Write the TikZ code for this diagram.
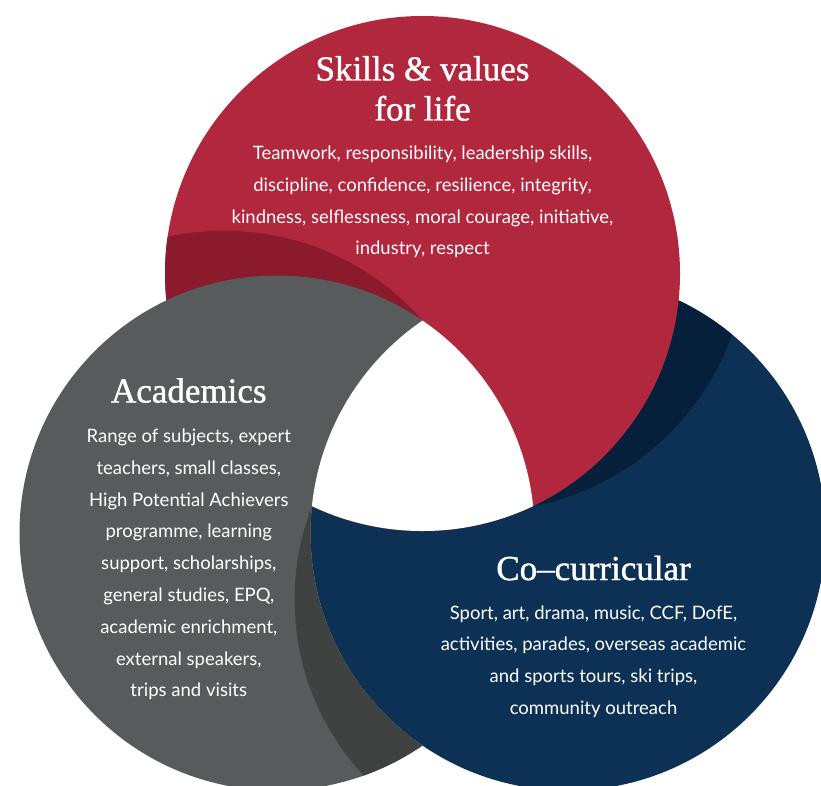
\documentclass[tikz,border=0pt]{standalone}
\usepackage{fontspec}
\newfontfamily\latofont{Lato}
\newfontfamily\titlefont[FakeBold=1.2]{Liberation Serif}
\definecolor{redc}{RGB}{177,39,62}
\definecolor{redd}{RGB}{138,26,44}
\definecolor{grayc}{RGB}{88,91,92}
\definecolor{grayd}{RGB}{63,66,65}
\definecolor{navyc}{RGB}{13,49,84}
\definecolor{navyd}{RGB}{6,32,60}
\begin{document}
\begin{tikzpicture}[x=1pt,y=-1pt,
  titletext/.style={text=white,font=\titlefont\fontsize{35}{40}\selectfont,inner sep=0pt,align=center},
  bodytext/.style={text=white,font=\latofont\fontsize{18.5}{31.8}\selectfont,inner sep=0pt,align=center}]
\clip (0,0) rectangle (821,785);
% circle centres
\coordinate (cR) at (422.5,273.5);
\coordinate (cG) at (277,533);
\coordinate (cN) at (568,533);
% shadow circle centres
\coordinate (sG) at (224.1,494.9);
\coordinate (sR) at (481.6,245.1);
\coordinate (sN) at (553.6,599.5);
\coordinate (bbA) at (-10,-10);
\coordinate (bbB) at (831,795);
% navy circle with shadow of red
\fill[navyc] (cN) circle (257.5pt);
\begin{scope}
  \clip (cN) circle (257.5pt);
  \fill[navyd] (sR) circle (266pt);
\end{scope}
% red circle with shadow of gray
\fill[redc] (cR) circle (257.5pt);
\begin{scope}
  \clip (cR) circle (257.5pt);
  \fill[redd] (sG) circle (264.2pt);
\end{scope}
% gray circle (under navy) with shadow of navy
\begin{scope}
  \clip (cG) circle (257.5pt);
  \fill[grayc,even odd rule] (bbA) rectangle (bbB) (cN) circle (257.5pt);
\end{scope}
\begin{scope}
  \clip (cG) circle (257.5pt);
  \clip (sN) circle (259pt);
  \fill[grayd,even odd rule] (bbA) rectangle (bbB) (cN) circle (257.5pt);
\end{scope}
% white centre
\begin{scope}
  \clip (cG) circle (257.5pt);
  \clip (cR) circle (257.5pt);
  \fill[white] (cN) circle (257.5pt);
\end{scope}
% texts
\node[titletext,anchor=north] (tskills) at (422.5,56) {Skills \& values\\for life};
\node[bodytext] (bskills) at (422.5,202) {Teamwork, responsibility, leadership skills,\\discipline, confidence, resilience, integrity,\\kindness, selflessness, moral courage, initiative,\\industry, respect};
\node[titletext,anchor=base] (tacad) at (188.8,402.5) {Academics};
\node[bodytext] (bacad) at (188.8,564.5) {Range of subjects, expert\\teachers, small classes,\\High Potential Achievers\\programme, learning\\support, scholarships,\\general studies, EPQ,\\academic enrichment,\\external speakers,\\trips and visits};
\node[titletext,anchor=base] (tco) at (593.5,580) {Co–curricular};
\node[bodytext] (bco) at (593.5,661.5) {Sport, art, drama, music, CCF, DofE,\\activities, parades, overseas academic\\and sports tours, ski trips,\\community outreach};
\end{tikzpicture}
\end{document}
